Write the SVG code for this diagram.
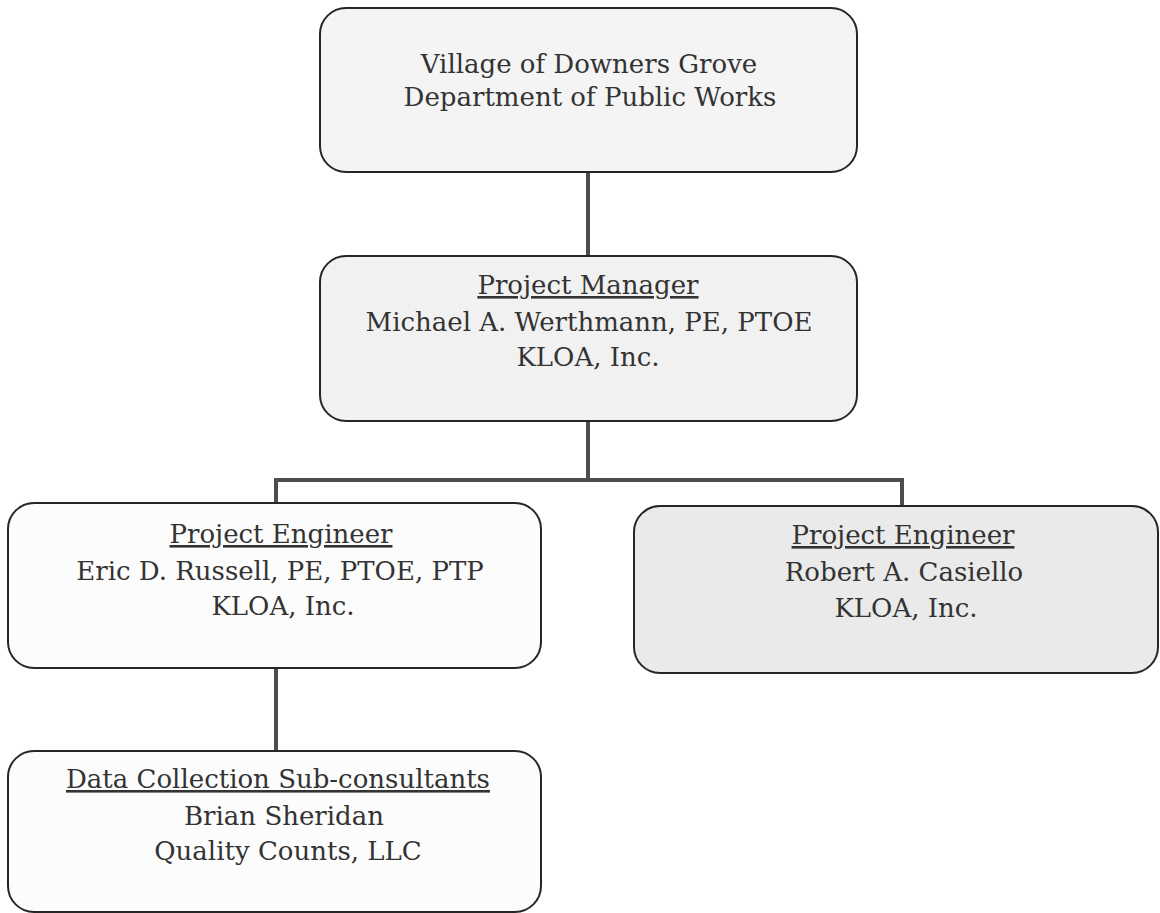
<svg xmlns="http://www.w3.org/2000/svg" width="1160" height="913" viewBox="0 0 1160 913">
<style>
.box{stroke:#262626;stroke-width:2}
.t{font-family:'DejaVu Serif','Liberation Serif',serif;font-size:26px;fill:#333;text-anchor:middle}
.u{text-decoration:underline}
.c{stroke:#4d4d4d;stroke-width:4;fill:none}
</style>
<rect width="1160" height="913" fill="#ffffff"/>
<g id="connectors">
<path class="c" d="M588 172V257"/>
<path class="c" d="M588 421V480M276 480H902M276 478V505M902 478V507"/>
<path class="c" d="M276 668V752"/>
</g>
<g id="dpw">
<rect class="box" x="320" y="8" width="537" height="164" rx="26" fill="#f4f4f4"/>
<text class="t" x="589" y="73">Village of Downers Grove</text>
<text class="t" x="590" y="106">Department of Public Works</text>
</g>
<g id="pm">
<rect class="box" x="320" y="256" width="537" height="165" rx="26" fill="#f1f1f1"/>
<text class="t u" x="588" y="294">Project Manager</text>
<text class="t" x="589" y="331">Michael A. Werthmann, PE, PTOE</text>
<text class="t" x="588" y="366">KLOA, Inc.</text>
</g>
<g id="pe1">
<rect class="box" x="8" y="503" width="533" height="165" rx="26" fill="#fcfcfc"/>
<text class="t u" x="281" y="543">Project Engineer</text>
<text class="t" x="280" y="580">Eric D. Russell, PE, PTOE, PTP</text>
<text class="t" x="283" y="615">KLOA, Inc.</text>
</g>
<g id="pe2">
<rect class="box" x="634" y="506" width="524" height="167" rx="26" fill="#eaeaea"/>
<text class="t u" x="903" y="544">Project Engineer</text>
<text class="t" x="904" y="581">Robert A. Casiello</text>
<text class="t" x="906" y="617">KLOA, Inc.</text>
</g>
<g id="dc">
<rect class="box" x="8" y="751" width="533" height="161" rx="26" fill="#fcfcfc"/>
<text class="t u" x="278" y="788">Data Collection Sub-consultants</text>
<text class="t" x="284" y="825">Brian Sheridan</text>
<text class="t" x="288" y="860">Quality Counts, LLC</text>
</g>
</svg>
